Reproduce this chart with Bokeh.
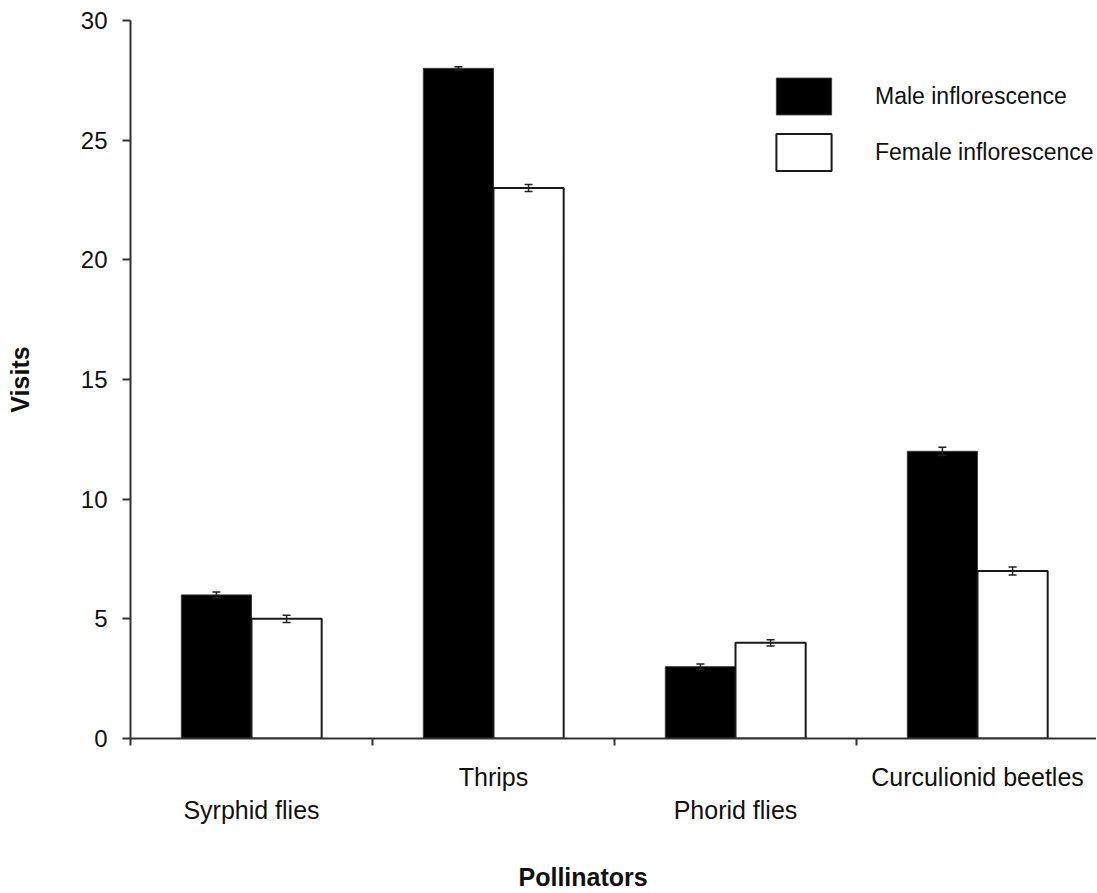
from bokeh.plotting import figure
from bokeh.models import (Range1d, FixedTicker, LinearAxis, Whisker, TeeHead,
                          ColumnDataSource, Legend, LegendItem, Title)
from bokeh.embed import file_html
from bokeh.resources import INLINE

# ---- data ----
categories = ["Syrphid flies", "Thrips", "Phorid flies", "Curculionid beetles"]
male_visits = [6, 28, 3, 12]
female_visits = [5, 23, 4, 7]
male_err = [0.12, 0.07, 0.11, 0.17]
female_err = [0.15, 0.15, 0.13, 0.17]
series_names = ["Male inflorescence", "Female inflorescence"]
y_ticks = [0, 5, 10, 15, 20, 25, 30]
x_title = "Pollinators"
y_title = "Visits"

FONT = "Liberation Sans"
BAR_W = 0.29
INK = "#333333"

centers = [i + 0.5 for i in range(len(categories))]
boundaries = list(range(len(categories) + 1))

male_src = ColumnDataSource(dict(
    x=[c - BAR_W / 2 for c in centers], top=male_visits,
    upper=[v + e for v, e in zip(male_visits, male_err)],
    lower=[v - e for v, e in zip(male_visits, male_err)]))
female_src = ColumnDataSource(dict(
    x=[c + BAR_W / 2 for c in centers], top=female_visits,
    upper=[v + e for v, e in zip(female_visits, female_err)],
    lower=[v - e for v, e in zip(female_visits, female_err)]))

p = figure(width=1096, height=892,
           x_range=Range1d(0, 966 / 242), y_range=Range1d(0, 30),
           output_backend="svg", toolbar_location=None,
           x_axis_type=None, y_axis_type=None,
           min_border_left=130, min_border_right=0,
           min_border_top=20, min_border_bottom=154,
           outline_line_color=None, background_fill_color="white",
           border_fill_color="white")

r_m = p.vbar(x="x", top="top", bottom=0, width=BAR_W, source=male_src,
             fill_color="black", line_color="#3a3a3a", line_width=1)
r_f = p.vbar(x="x", top="top", bottom=0, width=BAR_W, source=female_src,
             fill_color="white", line_color="#1a1a1a", line_width=2)

for src in (male_src, female_src):
    w = Whisker(source=src, base="x", upper="upper", lower="lower",
                line_color="#222222", line_width=1.5, level="annotation",
                upper_head=TeeHead(size=8, line_color="#222222", line_width=1.5),
                lower_head=TeeHead(size=8, line_color="#222222", line_width=1.5))
    p.add_layout(w)

# y axis
yaxis = LinearAxis(ticker=FixedTicker(ticks=y_ticks, minor_ticks=[]),
                   major_tick_out=8, major_tick_in=0,
                   minor_tick_out=0, minor_tick_in=0,
                   axis_line_color=INK, axis_line_width=2,
                   major_tick_line_color=INK, major_tick_line_width=2,
                   major_label_text_font=FONT, major_label_text_font_size="24px",
                   major_label_text_color="#111111", major_label_standoff=15,
                   axis_label=y_title, axis_label_standoff=44,
                   axis_label_text_font=FONT, axis_label_text_font_size="25px",
                   axis_label_text_font_style="bold",
                   axis_label_text_color="#111111")
p.add_layout(yaxis, "left")

# x axis with staggered category labels
overrides = {}
for i, (c, name) in enumerate(zip(centers, categories)):
    overrides[c] = ("\n" + name + "\n") if i % 2 == 0 else (name + "\n\n")
xaxis = LinearAxis(ticker=FixedTicker(ticks=centers, minor_ticks=boundaries),
                   major_tick_out=0, major_tick_in=0,
                   minor_tick_out=7, minor_tick_in=0,
                   minor_tick_line_color=INK, minor_tick_line_width=2,
                   axis_line_color=INK, axis_line_width=2,
                   major_label_overrides=overrides,
                   major_label_text_font=FONT, major_label_text_font_size="25px",
                   major_label_text_color="#111111", major_label_standoff=17)
p.add_layout(xaxis, "below")

p.add_layout(Title(text=x_title, align="left", offset=388, standoff=0,
                   vertical_align="bottom", text_font=FONT,
                   text_font_size="25px", text_font_style="bold",
                   text_color="#111111"), "below")

legend = Legend(items=[LegendItem(label=series_names[0], renderers=[r_m]),
                       LegendItem(label=series_names[1], renderers=[r_f])],
                location=(639, 563), glyph_width=69, glyph_height=46,
                spacing=10, label_standoff=37, padding=0, margin=0,
                border_line_color=None, background_fill_alpha=0,
                label_text_font=FONT, label_text_font_size="23px",
                label_text_color="#111111")
p.add_layout(legend, "center")

open("out.html", "w").write(file_html(p, INLINE))
